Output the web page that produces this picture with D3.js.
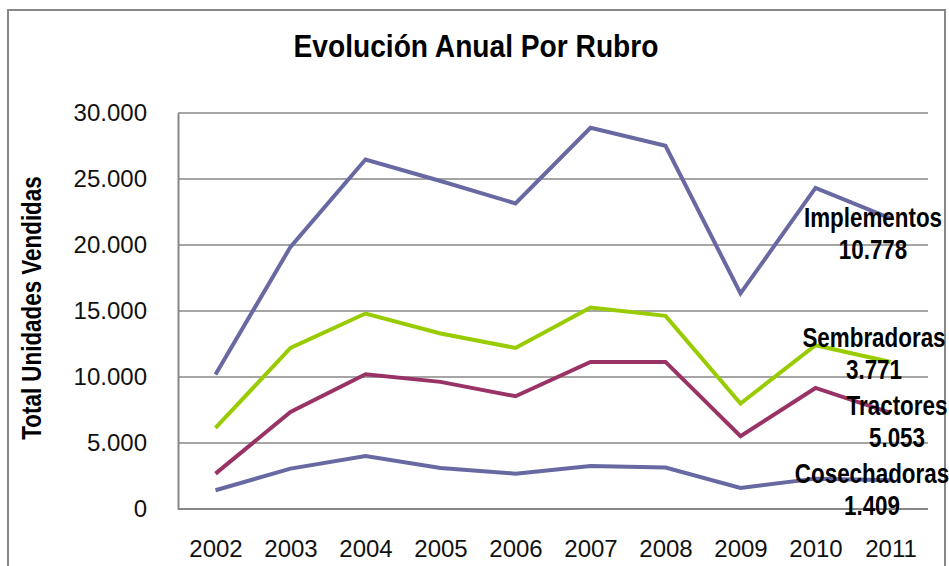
<!DOCTYPE html>
<html>
<head>
<meta charset="utf-8">
<script src="https://cdn.jsdelivr.net/npm/d3@7"></script>
<style>
  body { margin: 0; background: #fff; }
  svg { display: block; }
</style>
</head>
<body>
<div id="chart"></div>
<script>
// data
const years = ["2002", "2003", "2004", "2005", "2006", "2007", "2008", "2009", "2010", "2011"];
const implementos = [10190, 19860, 26480, 24850, 23150, 28880, 27520, 16330, 24330, 22010];
const sembradoras = [6140, 12200, 14810, 13300, 12200, 15270, 14630, 7990, 12410, 11140];
const tractores = [2680, 7350, 10210, 9630, 8540, 11140, 11140, 5510, 9170, 7280];
const cosechadoras = [1420, 3060, 4020, 3110, 2680, 3260, 3140, 1590, 2300, 2180];
const yTicks = [0, 5000, 10000, 15000, 20000, 25000, 30000];

const seriesNames = ["Implementos", "Sembradoras", "Tractores", "Cosechadoras"];
const seriesValues = [implementos, sembradoras, tractores, cosechadoras];
const labelValues = ["10.778", "3.771", "5.053", "1.409"];

const colors = ["#6868a2", "#99cc00", "#993366", "#6868a2"];

const width = 949, height = 566;
const margin = { top: 113, right: 21, bottom: 57, left: 178 };
const boldFont = "Liberation Sans, Arial, sans-serif";

const svg = d3.select("#chart").append("svg")
    .attr("width", width)
    .attr("height", height);

// outer chart border
svg.append("rect")
    .attr("x", 8).attr("y", 10)
    .attr("width", 937).attr("height", 570)
    .attr("fill", "none")
    .attr("stroke", "#878787")
    .attr("stroke-width", 2);

const xScale = d3.scalePoint()
    .domain(years)
    .range([margin.left, width - margin.right])
    .padding(0.5);

const yScale = d3.scaleLinear()
    .domain([0, 30000])
    .range([height - margin.bottom, margin.top]);

const fmt = d => d3.format(",")(d).replace(/,/g, ".");

// gridlines
svg.append("g")
    .selectAll("line")
    .data(yTicks.slice(1))
    .join("line")
      .attr("x1", margin.left)
      .attr("x2", width - margin.right)
      .attr("y1", d => yScale(d))
      .attr("y2", d => yScale(d))
      .attr("stroke", "#878787")
      .attr("stroke-width", 1.5);

// y axis
const yAxis = svg.append("g")
    .attr("transform", `translate(${margin.left},0)`)
    .call(d3.axisLeft(yScale).tickValues(yTicks).tickFormat(fmt).tickSize(0).tickPadding(31));
yAxis.select(".domain").attr("stroke", "#878787").attr("stroke-width", 2);
yAxis.selectAll("text")
    .attr("font-family", "Liberation Sans, Arial, sans-serif")
    .attr("font-size", 24)
    .attr("fill", "#111");

// x axis
const xAxis = svg.append("g")
    .attr("transform", `translate(0,${height - margin.bottom})`)
    .call(d3.axisBottom(xScale).tickSize(0).tickPadding(31).tickSizeOuter(0));
xAxis.select(".domain")
    .attr("d", `M${margin.left},0H${width - margin.right}`)
    .attr("stroke", "#878787").attr("stroke-width", 2);
xAxis.selectAll("text")
    .attr("font-family", "Liberation Sans, Arial, sans-serif")
    .attr("font-size", 24)
    .attr("fill", "#111");

// lines
const line = d3.line()
    .x((d, i) => xScale(years[i]))
    .y(d => yScale(d));

svg.append("g")
    .selectAll("path")
    .data(seriesValues)
    .join("path")
      .attr("d", d => line(d))
      .attr("fill", "none")
      .attr("stroke", (d, i) => colors[i])
      .attr("stroke-width", 4)
      .attr("stroke-linejoin", "miter");

// narrow bold text: no condensed font installed, so squeeze horizontally
function narrowText(x, y, size, sx, lines, rotate) {
  const g = svg.append("g")
      .attr("transform", `translate(${x},${y})` + (rotate ? " rotate(-90)" : "") + ` scale(${sx},1)`);
  const t = g.append("text")
      .attr("text-anchor", "middle")
      .attr("font-family", boldFont)
      .attr("font-weight", "bold")
      .attr("font-size", size)
      .attr("fill", "#000");
  lines.forEach((s, i) => {
    t.append("tspan").attr("x", 0).attr("y", i * 32).text(s);
  });
}

// end labels
const labelPos = [
  { x: 873, y: 227 },
  { x: 874, y: 347 },
  { x: 897, y: 415 },
  { x: 872, y: 483 }
];
seriesNames.forEach((name, i) => {
  narrowText(labelPos[i].x, labelPos[i].y, 28, 0.8, [name, labelValues[i]]);
});

// title
narrowText(476, 57, 32, 0.88, ["Evolución Anual Por Rubro"]);

// y axis title
narrowText(41, 308, 27, 0.83, ["Total Unidades Vendidas"], true);
</script>
</body>
</html>
